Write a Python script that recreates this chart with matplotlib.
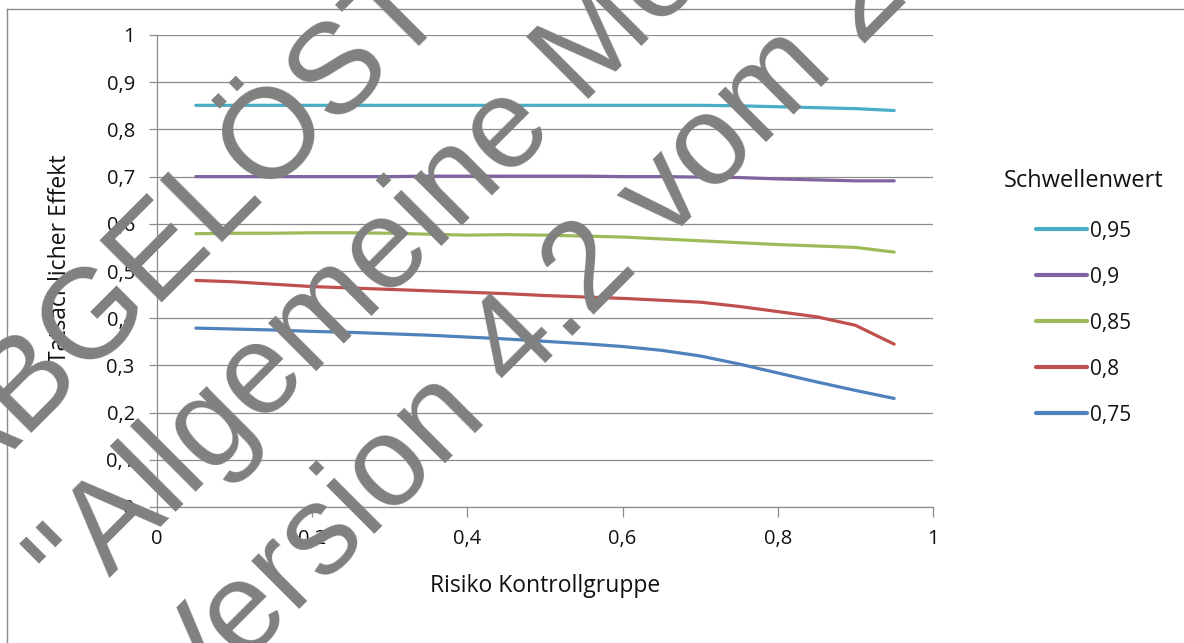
import matplotlib
matplotlib.use("Agg")
import matplotlib.pyplot as plt
from matplotlib.lines import Line2D
import numpy as np

# ---------------- data ----------------
risk = [0.05, 0.10, 0.15, 0.20, 0.25, 0.30, 0.35, 0.40, 0.45, 0.50,
        0.55, 0.60, 0.65, 0.70, 0.75, 0.80, 0.85, 0.90, 0.95]

eff_095 = [0.851, 0.851, 0.851, 0.851, 0.851, 0.851, 0.851, 0.851, 0.851, 0.851,
           0.851, 0.851, 0.851, 0.851, 0.850, 0.848, 0.846, 0.844, 0.840]
eff_090 = [0.700, 0.700, 0.700, 0.700, 0.700, 0.700, 0.701, 0.701, 0.701, 0.701,
           0.701, 0.700, 0.700, 0.699, 0.698, 0.695, 0.693, 0.691, 0.691]
eff_085 = [0.579, 0.580, 0.580, 0.581, 0.581, 0.580, 0.578, 0.576, 0.577, 0.576,
           0.574, 0.572, 0.568, 0.564, 0.560, 0.556, 0.553, 0.550, 0.540]
eff_080 = [0.480, 0.477, 0.472, 0.467, 0.464, 0.461, 0.458, 0.455, 0.452, 0.448,
           0.445, 0.442, 0.438, 0.434, 0.425, 0.414, 0.403, 0.385, 0.345]
eff_075 = [0.379, 0.377, 0.375, 0.372, 0.370, 0.367, 0.364, 0.360, 0.356, 0.351,
           0.346, 0.340, 0.332, 0.320, 0.303, 0.284, 0.265, 0.247, 0.230]

series_labels = ["0,95", "0,9", "0,85", "0,8", "0,75"]
series_values = [eff_095, eff_090, eff_085, eff_080, eff_075]
series_colors = ["#4BACC6", "#8064A2", "#9BBB59", "#C0504D", "#4F81BD"]

x_ticks = [0, 0.2, 0.4, 0.6, 0.8, 1.0]
x_ticklabels = ["0", "0,2", "0,4", "0,6", "0,8", "1"]
y_ticks = [0, 0.1, 0.2, 0.3, 0.4, 0.5, 0.6, 0.7, 0.8, 0.9, 1.0]
y_ticklabels = ["0", "0,1", "0,2", "0,3", "0,4", "0,5", "0,6", "0,7", "0,8", "0,9", "1"]

x_title = "Risiko Kontrollgruppe"
y_title = "Tatsächlicher Effekt"
legend_title = "Schwellenwert"
watermark_lines = ["ABGELÖST durch", "\"Allgemeine Methoden\"", "Version 4.2 vom 22.04.2015"]

# ---------------- figure ----------------
W, H = 1184, 643
fig = plt.figure(figsize=(W / 100, H / 100), dpi=100)
fig.patch.set_facecolor("white")
font = "Open Sans"
grid_col = "#8c8c8c"
text_col = "#111111"

# plot area in pixels: left 157, right 933, top 35, bottom 507
ax = fig.add_axes([157 / W, 1 - 507 / H, 776 / W, 472 / H])
ax.set_xlim(0, 1)
ax.set_ylim(0, 1)

for vals, col, lab in zip(series_values, series_colors, series_labels):
    ax.plot(risk, vals, color=col, lw=2.3, label=lab, solid_capstyle="round",
            solid_joinstyle="round", zorder=3)

ax.set_yticks(y_ticks)
ax.set_yticklabels(y_ticklabels, fontfamily=font, fontsize=14.5, color=text_col)
ax.set_xticks(x_ticks)
ax.set_xticklabels(x_ticklabels, fontfamily=font, fontsize=14.5, color=text_col)
ax.tick_params(axis="y", length=6, width=0.9, color=grid_col, pad=10, direction="out")
ax.tick_params(axis="x", length=7, width=0.9, color=grid_col, pad=9, direction="out")
ax.grid(axis="y", color=grid_col, lw=0.9, zorder=1)
ax.set_axisbelow(True)
for side in ["top", "right"]:
    ax.spines[side].set_visible(False)
for side in ["left", "bottom"]:
    ax.spines[side].set_color(grid_col)
    ax.spines[side].set_linewidth(0.9)

fig.text(545 / W, 1 - 586 / H, x_title, ha="center", va="center",
         fontfamily=font, fontsize=16.5, color=text_col)
fig.text(60 / W, 1 - 259 / H, y_title, ha="center", va="center", rotation=90,
         fontfamily=font, fontsize=16.5, color=text_col)

leg = ax.legend(loc="upper left", bbox_to_anchor=(1004 / W, 1 - 169 / H),
                bbox_transform=fig.transFigure, frameon=False,
                title=legend_title, prop={"family": font, "size": 15},
                title_fontproperties={"family": font, "size": 17},
                handlelength=2.45, handletextpad=0.15, labelspacing=1.2,
                borderpad=0, borderaxespad=0)
for t in leg.get_texts():
    t.set_color(text_col)
leg.get_title().set_color(text_col)
leg._legend_box.sep = 20
for h in leg.legend_handles:
    h.set_linewidth(3.0)

# chart area border (top and left visible)
fig.add_artist(Line2D([7 / W, 7 / W], [0, 1 - 9 / H], transform=fig.transFigure,
                      color=grid_col, lw=1.0))
fig.add_artist(Line2D([7 / W, 1], [1 - 9 / H, 1 - 9 / H], transform=fig.transFigure,
                      color=grid_col, lw=1.0))

# watermark
starts = [(-36, 500), (78, 610), (188, 720)]
for (px, py), line in zip(starts, watermark_lines):
    fig.text(px / W, 1 - py / H, line, rotation=45, rotation_mode="anchor",
             ha="left", va="baseline", fontfamily="Liberation Sans",
             fontsize=92, color="#808080", zorder=10)

fig.savefig("out.png", dpi=100)
